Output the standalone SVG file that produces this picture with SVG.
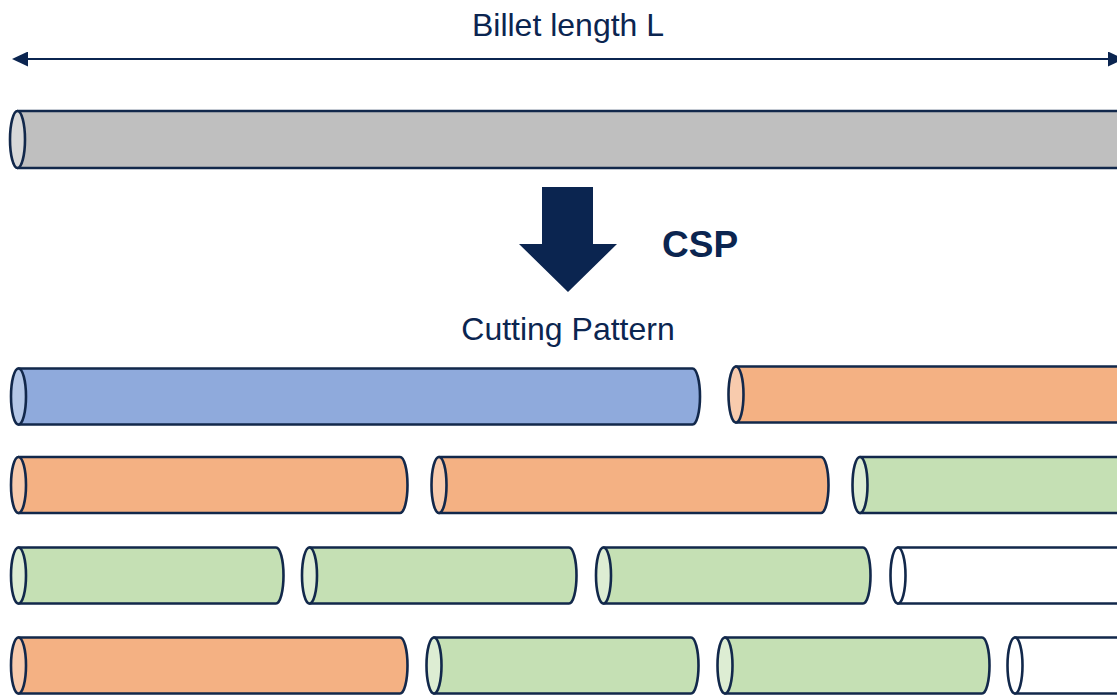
<svg xmlns="http://www.w3.org/2000/svg" width="1117" height="695" viewBox="0 0 1117 695">
  <defs>
    <style>
      .lbl { font-family: "Liberation Sans", Arial, sans-serif; fill: #0B2550; }
      .edge { stroke: #12284B; stroke-width: 2.6; stroke-linejoin: round; }
      .grey .body { fill: #BFBFBF; } .grey .cap { fill: #D9D9D9; }
      .blue .body { fill: #8FAADC; } .blue .cap { fill: #B4C7E7; }
      .orange .body { fill: #F4B183; } .orange .cap { fill: #F8CBAD; }
      .green .body { fill: #C5E0B4; } .green .cap { fill: #DDEDD3; }
      .white .body { fill: #FFFFFF; } .white .cap { fill: #FFFFFF; }
    </style>
    <marker id="dimHead" viewBox="0 0 16 15" refX="14" refY="7.5" markerWidth="16" markerHeight="15" markerUnits="userSpaceOnUse" orient="auto-start-reverse">
      <path d="M0 0 L16 7.5 L0 15 Z" fill="#0B2550"/>
    </marker>
  </defs>

  <rect width="1117" height="695" fill="#FFFFFF"/>

  <!-- dimension line for the full billet length -->
  <g id="connectors">
    <line x1="14" y1="59" x2="1122" y2="59" stroke="#0B2550" stroke-width="2" marker-start="url(#dimHead)" marker-end="url(#dimHead)"/>
  </g>

  <g id="label-length">
    <text class="lbl" x="568" y="35.5" font-size="32" text-anchor="middle">Billet length L</text>
  </g>

  <!-- raw billet -->
  <g id="billet" class="grey">
    <path class="body edge" d="M17.5 111 L1140 111 A7.5 28.5 0 0 1 1140 168 L17.5 168 Z"/>
    <ellipse class="cap edge" cx="17.5" cy="139.5" rx="7.5" ry="28.5"/>
  </g>

  <!-- cutting step arrow -->
  <g id="csp-arrow">
    <path d="M542 187 L593 187 L593 244 L617 244 L568 292 L519 244 L542 244 Z" fill="#0B2550"/>
  </g>
  <g id="label-csp">
    <text class="lbl" x="662" y="257" font-size="37" font-weight="bold">CSP</text>
  </g>
  <g id="label-pattern">
    <text class="lbl" x="568" y="339.5" font-size="32" text-anchor="middle">Cutting Pattern</text>
  </g>

  <!-- row 1 -->
  <g id="r1-p1" class="blue">
    <path class="body edge" d="M18.5 368.5 L692.5 368.5 A7.5 28 0 0 1 692.5 424.5 L18.5 424.5 Z"/>
    <ellipse class="cap edge" cx="18.5" cy="396.5" rx="7.5" ry="28"/>
  </g>
  <g id="r1-p2" class="orange">
    <path class="body edge" d="M736 366.5 L1140 366.5 A7.5 28 0 0 1 1140 422.5 L736 422.5 Z"/>
    <ellipse class="cap edge" cx="736" cy="394.5" rx="7.5" ry="28"/>
  </g>

  <!-- row 2 -->
  <g id="r2-p1" class="orange">
    <path class="body edge" d="M18.5 457 L400 457 A7.5 28 0 0 1 400 513 L18.5 513 Z"/>
    <ellipse class="cap edge" cx="18.5" cy="485" rx="7.5" ry="28"/>
  </g>
  <g id="r2-p2" class="orange">
    <path class="body edge" d="M439 457 L821 457 A7.5 28 0 0 1 821 513 L439 513 Z"/>
    <ellipse class="cap edge" cx="439" cy="485" rx="7.5" ry="28"/>
  </g>
  <g id="r2-p3" class="green">
    <path class="body edge" d="M860 457 L1140 457 A7.5 28 0 0 1 1140 513 L860 513 Z"/>
    <ellipse class="cap edge" cx="860" cy="485" rx="7.5" ry="28"/>
  </g>

  <!-- row 3 -->
  <g id="r3-p1" class="green">
    <path class="body edge" d="M18.5 547.5 L276 547.5 A7.5 28 0 0 1 276 603.5 L18.5 603.5 Z"/>
    <ellipse class="cap edge" cx="18.5" cy="575.5" rx="7.5" ry="28"/>
  </g>
  <g id="r3-p2" class="green">
    <path class="body edge" d="M309.5 547.5 L569 547.5 A7.5 28 0 0 1 569 603.5 L309.5 603.5 Z"/>
    <ellipse class="cap edge" cx="309.5" cy="575.5" rx="7.5" ry="28"/>
  </g>
  <g id="r3-p3" class="green">
    <path class="body edge" d="M603.5 547.5 L863 547.5 A7.5 28 0 0 1 863 603.5 L603.5 603.5 Z"/>
    <ellipse class="cap edge" cx="603.5" cy="575.5" rx="7.5" ry="28"/>
  </g>
  <g id="r3-p4" class="white">
    <path class="body edge" d="M898 547.5 L1140 547.5 A7.5 28 0 0 1 1140 603.5 L898 603.5 Z"/>
    <ellipse class="cap edge" cx="898" cy="575.5" rx="7.5" ry="28"/>
  </g>

  <!-- row 4 -->
  <g id="r4-p1" class="orange">
    <path class="body edge" d="M18.5 637.5 L400 637.5 A7.5 28 0 0 1 400 693.5 L18.5 693.5 Z"/>
    <ellipse class="cap edge" cx="18.5" cy="665.5" rx="7.5" ry="28"/>
  </g>
  <g id="r4-p2" class="green">
    <path class="body edge" d="M434 637.5 L691 637.5 A7.5 28 0 0 1 691 693.5 L434 693.5 Z"/>
    <ellipse class="cap edge" cx="434" cy="665.5" rx="7.5" ry="28"/>
  </g>
  <g id="r4-p3" class="green">
    <path class="body edge" d="M725 637.5 L982 637.5 A7.5 28 0 0 1 982 693.5 L725 693.5 Z"/>
    <ellipse class="cap edge" cx="725" cy="665.5" rx="7.5" ry="28"/>
  </g>
  <g id="r4-p4" class="white">
    <path class="body edge" d="M1015 637.5 L1140 637.5 A7.5 28 0 0 1 1140 693.5 L1015 693.5 Z"/>
    <ellipse class="cap edge" cx="1015" cy="665.5" rx="7.5" ry="28"/>
  </g>
</svg>
